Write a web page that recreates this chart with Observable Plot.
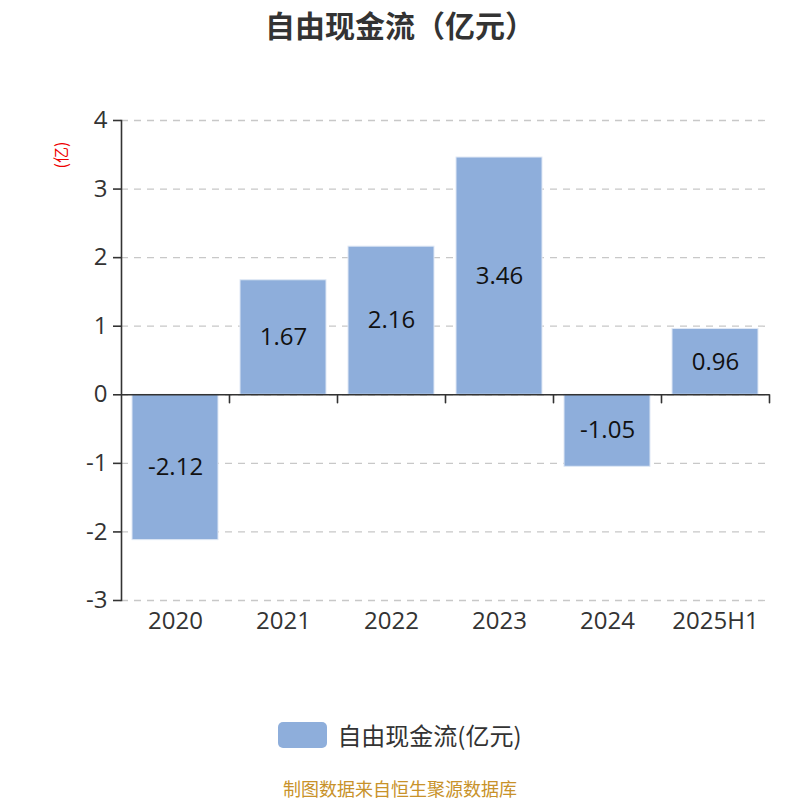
<!DOCTYPE html>
<html>
<head>
<meta charset="utf-8">
<script src="https://cdn.jsdelivr.net/npm/d3@7"></script>
<script src="https://cdn.jsdelivr.net/npm/@observablehq/plot@0.6"></script>
<style>
  body { margin: 0; background: #fff; font-family: "Noto Sans CJK SC", "Open Sans", sans-serif; }
  #wrap { position: relative; width: 800px; height: 800px; overflow: hidden; }
  #title { position: absolute; top: 0; left: 0; width: 800px; text-align: center; font-size: 30px; font-weight: bold; color: #333; line-height: 48px; }
  #chart { position: absolute; top: 0; left: 0; }
  #unit { position: absolute; left: 44px; top: 145px; color: #e00; font-size: 16px; transform: rotate(-90deg); transform-origin: center; width: 32px; text-align: center; line-height: 20px; }
  #legend { position: absolute; top: 719px; left: 0; width: 800px; display: flex; justify-content: center; align-items: center; gap: 10px; font-size: 24px; line-height: 32px; color: #333; }
  #legend .sw { width: 49px; height: 26px; border-radius: 5px; background: #8eaedb; }
  #caption { position: absolute; top: 776px; left: 0; width: 800px; text-align: center; font-size: 18px; line-height: 24px; color: #c8922a; }
</style>
</head>
<body>
<div id="wrap">
  <div id="title">自由现金流（亿元）</div>
  <div id="chart"></div>
  <div id="unit">(亿)</div>
  <div id="legend"><div class="sw"></div><span>自由现金流(亿元)</span></div>
  <div id="caption">制图数据来自恒生聚源数据库</div>
</div>
<script>
const categories = ["2020", "2021", "2022", "2023", "2024", "2025H1"];
const values = [-2.12, 1.67, 2.16, 3.46, -1.05, 0.96];
const yTicks = [-3, -2, -1, 0, 1, 2, 3, 4];

const data = categories.map((c, i) => ({ period: c, value: values[i] }));
const barColor = "#8eaedb";
const axisColor = "#333";

const tickShape = {
  draw(context, l) { context.moveTo(0, 0); context.lineTo(0, -l); }
};

const chart = Plot.plot({
  width: 800,
  height: 700,
  marginTop: 120,
  marginBottom: 100,
  marginLeft: 121,
  marginRight: 31,
  style: { fontFamily: "'Open Sans', 'Noto Sans', sans-serif", fontSize: "22px", color: axisColor, background: "transparent" },
  x: { domain: categories, paddingInner: 0.2, paddingOuter: 0.1, label: null },
  y: { domain: [-3, 4], label: null },
  marks: [
    Plot.gridY(yTicks, { stroke: "#c8c8c8", strokeOpacity: 1, strokeDasharray: "7,6", strokeWidth: 1.3 }),
    Plot.barY(data, { x: "period", y: "value", fill: barColor, stroke: "#dfe8f5", strokeWidth: 1 }),
    Plot.text(data, { x: "period", y: d => d.value / 2, text: d => String(d.value), fontSize: 24, fill: "#111" }),
    Plot.ruleY([0], { stroke: axisColor, strokeWidth: 1.6 }),
    Plot.vector(categories, { x: d => d, y: 0, dx: 54, length: 8, rotate: 180, anchor: "start", shape: tickShape, stroke: axisColor, strokeWidth: 1.6 }),
    Plot.frame({ anchor: "left", stroke: axisColor, strokeWidth: 1.6 }),
    Plot.axisY(yTicks, { tickSize: 8, tickPadding: 6, fontSize: 24, tickFormat: d => String(d), stroke: axisColor, strokeWidth: 1.6, fill: axisColor, label: null }),
    Plot.axisX(categories, { tickSize: 0, tickPadding: 11, fontSize: 24, fill: axisColor, label: null })
  ]
});
document.getElementById("chart").appendChild(chart);
</script>
</body>
</html>
